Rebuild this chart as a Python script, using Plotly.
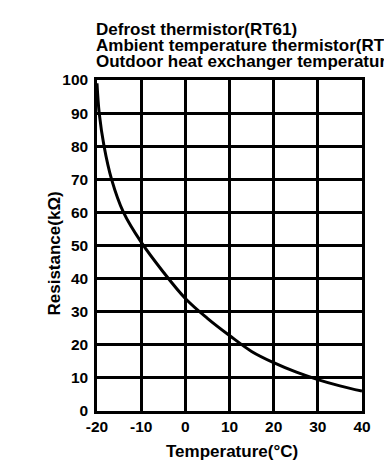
import plotly.graph_objects as go

temps = [-20, -19.5, -18.4, -16.7, -14, -10, -5, 0, 5, 10, 15, 20, 25, 30, 35, 40]
resistance = [99, 90, 80, 70, 60, 51, 42, 34, 28, 22.8, 18.0, 14.6, 11.8, 9.5, 7.6, 6.0]

x_ticks = [-20, -10, 0, 10, 20, 30, 40]
y_ticks = [0, 10, 20, 30, 40, 50, 60, 70, 80, 90, 100]

title_lines = [
    "Defrost thermistor(RT61)",
    "Ambient temperature thermistor(RT65)",
    "Outdoor heat exchanger temperature thermistor(RT68)",
]
x_title = "Temperature(°C)"
y_title = "Resistance(kΩ)"

FONT = "Liberation Sans, Arial, sans-serif"

fig = go.Figure()
fig.add_trace(go.Scatter(
    x=temps, y=resistance, mode="lines",
    line=dict(color="black", width=3, shape="spline", smoothing=1.0),
    hoverinfo="skip", showlegend=False,
))

axis_common = dict(
    showgrid=True, gridcolor="black", gridwidth=2.5,
    showline=True, linecolor="black", linewidth=2.5, mirror=True,
    zeroline=False, ticks="",
    tickfont=dict(family=FONT, size=15.5, color="black", weight="bold"),
)

fig.update_layout(
    width=384, height=457,
    margin=dict(l=89, r=30, t=72, b=54, autoexpand=False),
    paper_bgcolor="white", plot_bgcolor="white",
    xaxis=dict(range=[-20, 40], tickvals=x_ticks, ticktext=[str(v) for v in x_ticks],
               ticklabelstandoff=0, **axis_common),
    yaxis=dict(range=[0, 100], tickvals=y_ticks, ticktext=[str(v) for v in y_ticks],
               ticklabelstandoff=3, **axis_common),
)

annotations = []
for i, line in enumerate(title_lines):
    annotations.append(dict(
        text=line, xref="paper", yref="paper", x=0, y=1,
        xanchor="left", yanchor="middle", xshift=-3, yshift=51 - 16.3 * i,
        showarrow=False, align="left",
        font=dict(family=FONT, size=17, color="black", weight="bold"),
    ))
annotations.append(dict(
    text=x_title, xref="paper", yref="paper", x=0.5, y=0,
    xanchor="center", yanchor="middle", xshift=2.5, yshift=-40, showarrow=False,
    font=dict(family=FONT, size=17, color="black", weight="bold"),
))
annotations.append(dict(
    text=y_title, xref="paper", yref="paper", x=0, y=0.5,
    xanchor="center", yanchor="middle", xshift=-43, yshift=-8, textangle=-90, showarrow=False,
    font=dict(family=FONT, size=17, color="black", weight="bold"),
))
# partially visible axis label of a neighbouring chart at the right edge
annotations.append(dict(
    text=y_title, xref="paper", yref="paper", x=1, y=0.5,
    xanchor="center", yanchor="middle", xshift=40, yshift=-35.5, textangle=-90, showarrow=False,
    font=dict(family=FONT, size=17, color="black", weight="bold"),
))
fig.update_layout(annotations=annotations)

fig.write_html("out.html")
